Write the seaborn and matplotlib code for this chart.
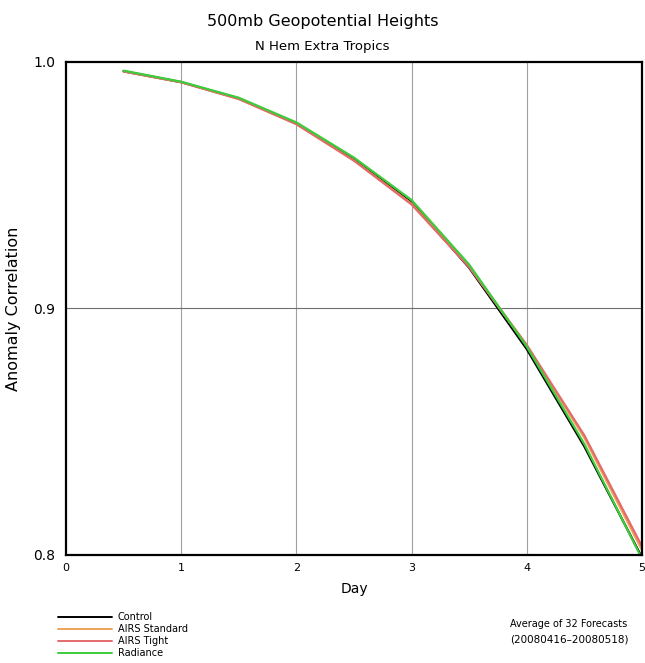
import numpy as np
import pandas as pd
import seaborn as sns
import matplotlib
matplotlib.use("Agg")
import matplotlib.pyplot as plt

days = [0.5, 1.0, 1.5, 2.0, 2.5, 3.0, 3.5, 4.0, 4.5, 5.0]
control = [0.9962, 0.9918, 0.9852, 0.9750, 0.9605, 0.9430, 0.9165, 0.8835, 0.8440, 0.7990]
airs_standard = [0.9962, 0.9918, 0.9850, 0.9748, 0.9600, 0.9425, 0.9170, 0.8850, 0.8475, 0.8020]
airs_tight = [0.9962, 0.9918, 0.9850, 0.9748, 0.9600, 0.9422, 0.9168, 0.8852, 0.8485, 0.8035]
radiance = [0.9965, 0.9920, 0.9855, 0.9755, 0.9612, 0.9440, 0.9178, 0.8845, 0.8450, 0.7985]

series_names = ["Control", "AIRS Standard", "AIRS Tight", "Radiance"]
series_vals = [control, airs_standard, airs_tight, radiance]
colors = ["#000000", "#f0a35a", "#e36a6a", "#3ccc3c"]

df = pd.concat([pd.DataFrame({"Day": days, "AC": v, "Series": n})
                for n, v in zip(series_names, series_vals)], ignore_index=True)

sns.set_style("white")
plt.rcParams['font.family'] = ['DejaVu Sans']
plt.rcParams['text.color'] = 'black'
plt.rcParams['axes.labelcolor'] = 'black'

fig = plt.figure(figsize=(6.45, 6.63), dpi=100)
ax = fig.add_axes([0.1023, 0.1629, 0.8930, 0.7436])

sns.lineplot(data=df, x="Day", y="AC", hue="Series", hue_order=series_names,
             palette=dict(zip(series_names, colors)), linewidth=1.6, ax=ax,
             legend=False, clip_on=True)

ax.set_xlim(0, 5)
ax.set_ylim(0.8, 1.0)
ax.set_xticks([0, 1, 2, 3, 4, 5])
ax.set_xticklabels(["0", "1", "2", "3", "4", "5"], fontsize=8)
ax.set_yticks([0.8, 0.9, 1.0])
ax.set_yticklabels(["0.8", "0.9", "1.0"], fontsize=10)
ax.tick_params(axis='both', direction='out', length=4, width=0.8, colors='black')
ax.tick_params(axis='x', pad=2)
for x in [1, 2, 3, 4]:
    ax.axvline(x, color='#a0a0a0', linewidth=0.8, zorder=0)
ax.axhline(0.9, color='#707070', linewidth=0.8, zorder=0)
for s in ax.spines.values():
    s.set_linewidth(1.6)
    s.set_color('black')
ax.set_xlabel("Day", fontsize=10, labelpad=6)
ax.set_ylabel("Anomaly Correlation", fontsize=11.5, labelpad=9)

fig.text(0.5, 0.968, "500mb Geopotential Heights", ha='center', va='center', fontsize=11.5)
fig.text(0.5, 0.930, "N Hem Extra Tropics", ha='center', va='center', fontsize=9.5)

# legend
ys = [617, 629, 641, 653]
for n, c, yp in zip(series_names, colors, ys):
    yf = 1 - yp / 663
    fig.add_artist(plt.Line2D([58 / 645, 112 / 645], [yf, yf], color=c, linewidth=1.4,
                              transform=fig.transFigure))
    fig.text(118 / 645, yf, n, ha='left', va='center', fontsize=7)

fig.text(510 / 645, 1 - 624 / 663, "Average of 32 Forecasts", ha='left', va='center', fontsize=7)
fig.text(510 / 645, 1 - 640 / 663, "(20080416\u201320080518)", ha='left', va='center', fontsize=7.5)

fig.savefig("out.png", dpi=100, facecolor='white')
